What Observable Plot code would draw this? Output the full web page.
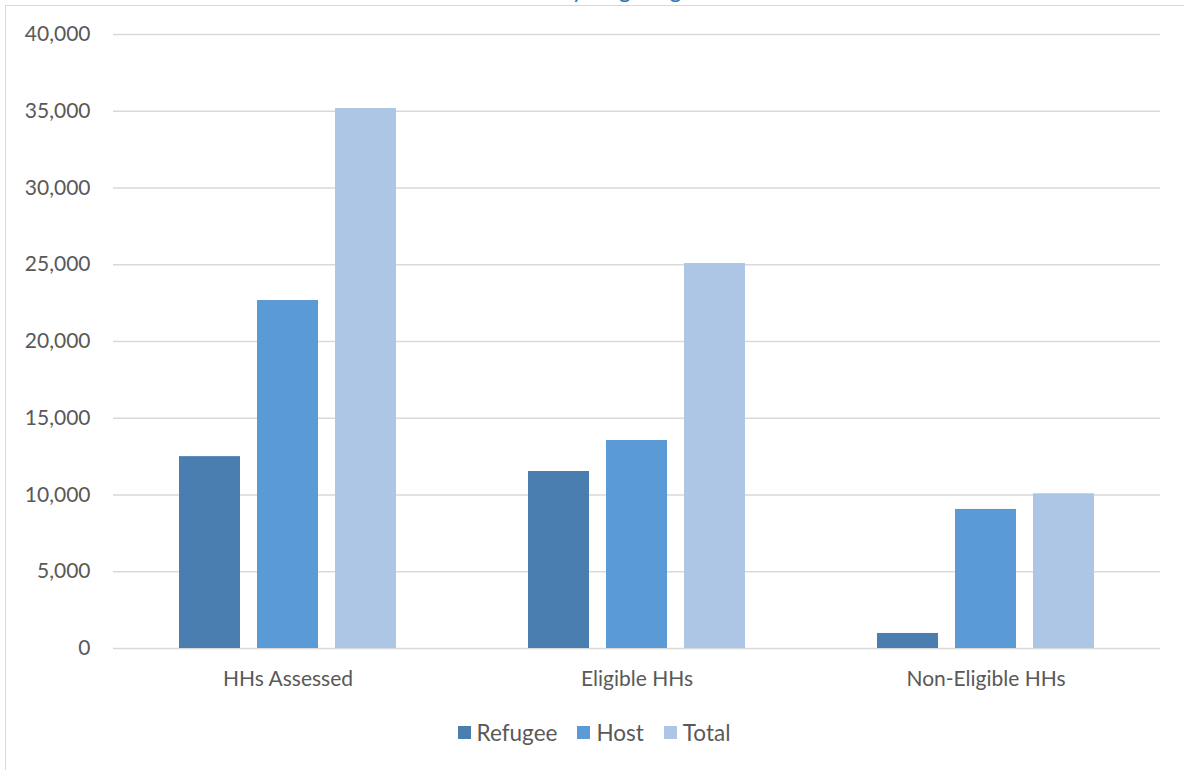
<!DOCTYPE html>
<html>
<head>
<meta charset="utf-8">
<script src="https://cdn.jsdelivr.net/npm/d3@7"></script>
<script src="https://cdn.jsdelivr.net/npm/@observablehq/plot@0.6"></script>
<style>
  html, body { margin: 0; padding: 0; background: #fff; overflow: hidden; }
  body { width: 1184px; height: 770px; position: relative; font-family: Lato, "Open Sans", sans-serif; color: #595959; }
  #frame { position: absolute; left: 5px; top: 5px; width: 1200px; height: 800px; border: 1.5px solid #d9d9d9; box-sizing: border-box; }
  #title { position: absolute; left: 0; top: -25px; width: 1184px; text-align: center; font-size: 23px; color: #2e75b6; font-family: Lato, sans-serif; }
  #chart { position: absolute; left: 0; top: 0; }
  #legend { position: absolute; top: 719px; left: 0; width: 1184px; display: flex; justify-content: center; gap: 20px; font-size: 22.5px; color: #595959; padding-left: 4px; box-sizing: border-box; }
  .item { display: flex; align-items: center; gap: 6px; }
  .sw { width: 13px; height: 13px; display: inline-block; }
</style>
</head>
<body>
<div id="frame"></div>
<div id="title">Households by Targeting Status</div>
<div id="chart"></div>
<div id="legend"></div>
<script>
const categories = ["HHs Assessed", "Eligible HHs", "Non-Eligible HHs"];
const series = ["Refugee", "Host", "Total"];
const refugee = [12500, 11530, 980];
const host = [22670, 13550, 9060];
const total = [35180, 25080, 10080];
const colors = ["#4a7eb1", "#5b9bd5", "#adc6e5"];
const yTicks = [0, 5000, 10000, 15000, 20000, 25000, 30000, 35000, 40000];

const values = {Refugee: refugee, Host: host, Total: total};
const data = [];
categories.forEach((c, i) => series.forEach(s => data.push({category: c, series: s, value: values[s][i]})));

const chart = Plot.plot({
  width: 1184,
  height: 700,
  marginLeft: 112,
  marginRight: 24,
  marginTop: 34,
  marginBottom: 52,
  style: {fontFamily: "Lato, 'Open Sans', sans-serif", fontSize: "21px", color: "#595959", background: "transparent"},
  fx: {domain: categories, padding: 0, label: null},
  x: {domain: series, paddingInner: 0.218, paddingOuter: 0.846, axis: null},
  y: {domain: [0, 40000], ticks: yTicks, label: null},
  color: {domain: series, range: colors},
  marks: [
    Plot.ruleY(yTicks, {stroke: "#d9d9d9", strokeWidth: 1.5}),
    Plot.barY(data, {fx: "category", x: "series", y: "value", fill: "series"}),
    Plot.axisY({ticks: yTicks, tickFormat: d3.format(","), tickSize: 0, tickPadding: 23, fontSize: 21, fill: "#595959", label: null}),
    Plot.axisFx({tickSize: 0, tickPadding: 23, fontSize: 21, fill: "#595959", label: null, anchor: "bottom"})
  ]
});
document.getElementById("chart").appendChild(chart);

const legend = document.getElementById("legend");
series.forEach((s, i) => {
  const item = document.createElement("div");
  item.className = "item";
  const sw = document.createElement("span");
  sw.className = "sw";
  sw.style.background = colors[i];
  const t = document.createElement("span");
  t.textContent = s;
  item.appendChild(sw);
  item.appendChild(t);
  legend.appendChild(item);
});
</script>
</body>
</html>
